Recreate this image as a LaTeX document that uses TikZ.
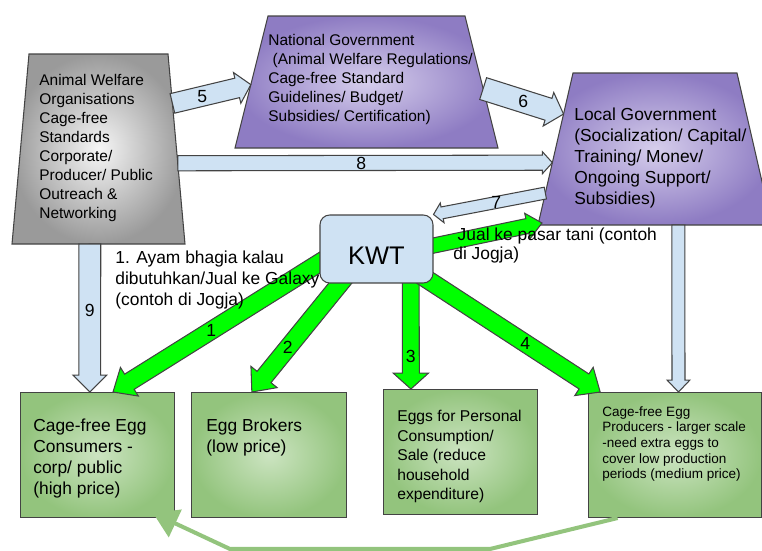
\documentclass[tikz,border=0pt]{standalone}
\usepackage{fontspec}
\setmainfont{Liberation Sans}
\usepackage{tikz}
\usetikzlibrary{arrows.meta,calc,positioning}
\definecolor{welfareGrey}{RGB}{154,154,154}
\definecolor{welfareLight}{RGB}{246,246,246}
\definecolor{govPurple}{RGB}{142,124,195}
\definecolor{govLight}{RGB}{214,206,236}
\definecolor{eggGreen}{RGB}{147,196,125}
\definecolor{eggLight}{RGB}{204,228,193}
\definecolor{flowBlue}{RGB}{207,226,243}
\definecolor{kwtGreen}{RGB}{0,255,0}
\definecolor{edgeGrey}{RGB}{67,67,67}
\pgfdeclarelayer{front}
\pgfsetlayers{main,front}
% block arrow: style, from, to, half shaft, half head, head length, number, number pos
\newcommand{\fatarrow}[8]{%
  \coordinate (fa-h) at ($(#3)!#6!(#2)$);
  \draw[#1] ($(#2)!#4!90:(#3)$) -- ($(fa-h)!#4!90:(#3)$) -- ($(fa-h)!#5!90:(#3)$)
    -- (#3) -- ($(fa-h)!#5!-90:(#3)$) -- ($(fa-h)!#4!-90:(#3)$)
    -- ($(#2)!#4!-90:(#3)$) -- cycle;
  \node[numlabel] (lbl-#7) at ($(#2)!#8!(#3)$) {#7};}

\begin{document}
\begin{tikzpicture}[x=0.02cm, y=-0.02cm,
    txt/.style={align=left, inner sep=0pt, anchor=north west},
    numlabel/.style={font=\fontsize{10}{12}\selectfont, inner sep=0pt},
    greyshape/.style={inner color=welfareLight, outer color=welfareGrey, draw=edgeGrey, line width=0.6pt},
    govshape/.style={inner color=govLight, outer color=govPurple, draw=edgeGrey, line width=0.6pt},
    eggbox/.style={rectangle, inner color=eggLight, outer color=eggGreen, draw=edgeGrey,
      line width=0.6pt, anchor=north west, minimum width=#1, minimum height=2.5cm, inner sep=0pt},
    eggtext/.style={align=left, inner sep=0pt, anchor=north west},
    kwtbox/.style={rectangle, rounded corners=5.5pt, fill=flowBlue, draw=edgeGrey, line width=0.6pt,
      minimum width=2.26cm, minimum height=1.36cm, text height=18pt, text depth=0pt,
      font=\fontsize{14.5}{17}\selectfont},
    blueflow/.style={fill=flowBlue, draw=edgeGrey, line width=0.6pt},
    greenflow/.style={fill=kwtGreen, draw=edgeGrey, line width=0.6pt},
    feedback/.style={draw=eggGreen, line width=2.3pt, line join=round,
      -{Triangle[length=14pt,width=17pt]}}]
  \useasboundingbox (0,0) rectangle (762,551);

  % Trapezoid corners
  \coordinate (awo-nw) at (29,54);   \coordinate (awo-ne) at (168,54);
  \coordinate (awo-se) at (185,244); \coordinate (awo-sw) at (12,244);
  \coordinate (nat-nw) at (268,16);  \coordinate (nat-ne) at (465,16);
  \coordinate (nat-se) at (498,148); \coordinate (nat-sw) at (235,148);
  \coordinate (loc-nw) at (573,73);  \coordinate (loc-ne) at (737,73);
  \coordinate (loc-se) at (772,225); \coordinate (loc-sw) at (538,225);

  % Actors
  \shadedraw[greyshape] (awo-nw) -- (awo-ne) -- (awo-se) -- (awo-sw) -- cycle;
  \shadedraw[govshape] (nat-nw) -- (nat-ne) -- (nat-se) -- (nat-sw) -- cycle;
  \shadedraw[govshape] (loc-nw) -- (loc-ne) -- (loc-se) -- (loc-sw) -- cycle;
  \node[txt, font=\fontsize{8.8}{10.8}\selectfont] (awo) at (39,74)
    {Animal Welfare\\Organisations\\Cage-free\\Standards\\Corporate/\\Producer/ Public\\Outreach \&\\Networking};
  \node[txt, font=\fontsize{8.8}{10.8}\selectfont] (natgov) at (268,34)
    {National Government\\\hspace*{2.5pt}(Animal Welfare Regulations/\\Cage-free Standard\\Guidelines/ Budget/\\Subsidies/ Certification)};
  \node[txt, font=\fontsize{9.9}{11.9}\selectfont] (locgov) at (574,108)
    {Local Government\\(Socialization/ Capital/\\Training/ Monev/\\Ongoing Support/\\Subsidies)};

  \begin{pgfonlayer}{front}
    \node[kwtbox] (kwt) at (376.5,249) {KWT};
  \end{pgfonlayer}

  % Egg outlets
  \node[eggbox=3.08cm, label={[eggtext, font=\fontsize{9.9}{11.8}\selectfont, xshift=0.26cm, yshift=-0.54cm]north west:{Cage-free Egg\\Consumers -\\corp/ public\\(high price)}}]
    (cons) at (20,392) {};
  \node[eggbox=3.1cm, label={[eggtext, font=\fontsize{9.9}{11.8}\selectfont, xshift=0.3cm, yshift=-0.54cm]north west:{Egg Brokers\\(low price)}}]
    (brok) at (191,392) {};
  \node[eggbox=3.08cm, label={[eggtext, font=\fontsize{8.9}{11.1}\selectfont, xshift=0.28cm, yshift=-0.42cm]north west:{Eggs for Personal\\Consumption/\\Sale (reduce\\household\\expenditure)}}]
    (pers) at (383,389) {};
  \node[eggbox=3.46cm, label={[eggtext, font=\fontsize{7.7}{8.9}\selectfont, xshift=0.28cm, yshift=-0.28cm]north west:{Cage-free Egg\\Producers - larger scale\\-need extra eggs to\\cover low production\\periods (medium price)}}]
    (prod) at (588,392) {};

  % Support flows
  \coordinate (a5) at ($(awo-ne)!0.26!(awo-se)$);  \coordinate (b5) at ($(nat-nw)!0.52!(nat-sw)$);
  \coordinate (a6) at ($(nat-ne)!0.55!(nat-se)$);  \coordinate (b6) at ($(loc-nw)!0.27!(loc-sw)$);
  \coordinate (a8) at ($(awo-ne)!0.575!(awo-se)$); \coordinate (b8) at ($(loc-nw)!0.59!(loc-sw)$);
  \coordinate (a7) at ($(loc-nw)!0.79!(loc-sw)$);
  \coordinate (a9) at ($(awo-sw)!0.45!(awo-se)$);  \coordinate (b9) at ($(cons.north west)!0.45!(cons.north east)$);
  \coordinate (a10) at ($(loc-sw)!0.6!(loc-se)$);  \coordinate (b10) at ($(prod.north west)!0.52!(prod.north east)$);
  \fatarrow{blueflow}{a5}{b5}{5.7pt}{9pt}{8pt}{5}{0.38}
  \fatarrow{blueflow}{a6}{b6}{6.5pt}{10pt}{9pt}{6}{0.5}
  \fatarrow{blueflow}{a8}{b8}{4.3pt}{6.3pt}{5.7pt}{8}{0.49}
  \fatarrow{blueflow}{a7}{kwt.north east}{3.4pt}{5.7pt}{5pt}{7}{0.44}
  \fatarrow{blueflow}{a9}{b9}{6.2pt}{9.6pt}{9.6pt}{9}{0.45}
  \fatarrow{blueflow}{a10}{b10}{3.7pt}{6.5pt}{6.8pt}{}{0.5}

  % KWT sales
  \coordinate (g1t) at ($(cons.north west)!0.6!(cons.north east)$);
  \coordinate (g1e) at ($(kwt.north west)!0.7!(kwt.south west)$);
  \coordinate (g1s) at ($(g1e)!-8pt!(g1t)$);
  \coordinate (g2t) at ($(brok.north west)!0.39!(brok.north east)$);
  \coordinate (g2e) at ($(kwt.south west)!0.18!(kwt.south east)$);
  \coordinate (g2s) at ($(g2e)!-8pt!(g2t)$);
  \coordinate (g3t) at ($(pers.north west)!0.18!(pers.north east)$);
  \coordinate (g3e) at ($(kwt.south west)!0.8!(kwt.south east)$);
  \coordinate (g3s) at ($(g3e)!-8pt!(g3t)$);
  \coordinate (g4t) at ($(prod.north west)!0.07!(prod.north east)$);
  \coordinate (g4s) at ($(kwt.south east)!-8pt!(g4t)$);
  \coordinate (g5t) at ($(loc-sw)+(4,-2)$);
  \coordinate (g5e) at ($(kwt.north east)!0.45!(kwt.south east)$);
  \coordinate (g5s) at ($(g5e)!-8pt!(g5t)$);
  \fatarrow{greenflow}{g1s}{g1t}{5.1pt}{9.6pt}{11pt}{1}{0.55}
  \fatarrow{greenflow}{g2s}{g2t}{5.1pt}{9.6pt}{11pt}{2}{0.63}
  \fatarrow{greenflow}{g3s}{g3t}{4.8pt}{10pt}{9pt}{3}{0.73}
  \fatarrow{greenflow}{g4s}{g4t}{5.1pt}{9.6pt}{11pt}{4}{0.58}
  \fatarrow{greenflow}{g5s}{g5t}{4.3pt}{7.4pt}{8.5pt}{}{0.5}

  % Notes
  \node[txt, font=\fontsize{9.9}{11.9}\selectfont] (ayam) at (115,251)
    {1. Ayam bhagia kalau\\dibutuhkan/Jual ke Galaxy\\(contoh di Jogja)};
  \node[txt, font=\fontsize{9.9}{10.8}\selectfont] (jual) at (453,228)
    {\hspace*{2.5pt}Jual ke pasar tani (contoh\\di Jogja)};

  % Producers back to consumers
  \coordinate (fb-s) at ($(prod.south west)!0.17!(prod.south east)$);
  \coordinate (fb-e) at ($(cons.south east)+(-22,-5)$);
  \draw[feedback] (fb-s) -- (490,549) -- (230,549) -- (fb-e);
\end{tikzpicture}
\end{document}
